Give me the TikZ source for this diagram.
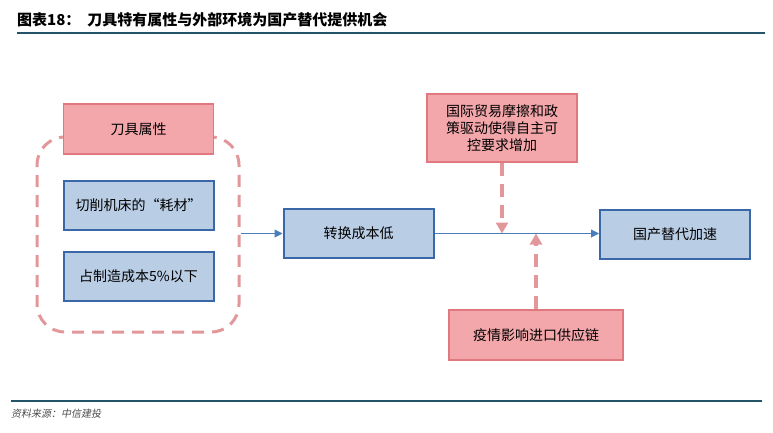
\documentclass[tikz,border=0pt]{standalone}
\usepackage{fontspec}
\newfontfamily\cjk{Noto Sans CJK SC}
\newfontfamily\cjkslant[FakeSlant=0.2]{Noto Sans CJK SC}
\usetikzlibrary{positioning}
\usetikzlibrary{arrows.meta}
\usetikzlibrary{calc}

\definecolor{pinkfill}{HTML}{F4A7AB}
\definecolor{pinkline}{HTML}{E07880}
\definecolor{pinkdash}{HTML}{E2979A}
\definecolor{bluefill}{HTML}{B9CDE5}
\definecolor{blueline}{HTML}{3A67A8}
\definecolor{flowblue}{HTML}{4A7EBB}
\definecolor{rulecol}{HTML}{245468}

\begin{document}
\begin{tikzpicture}[x=1pt,y=-1pt,
  pinkbox/.style={draw=pinkline,fill=pinkfill,line width=1.6pt,inner sep=0pt,
    font=\cjk\fontsize{14}{17}\selectfont,align=center},
  bluebox/.style={draw=blueline,fill=bluefill,line width=2pt,inner sep=0pt,
    minimum width=150,minimum height=49,font=\cjk\fontsize{14}{17}\selectfont},
  groupbox/.style={draw=pinkdash,line width=3pt,dash pattern=on 12pt off 8pt,
    rounded corners=28pt,minimum width=202,minimum height=195},
  flow/.style={draw=flowblue,line width=1pt,-{Triangle[length=8pt,width=8pt]}},
  push/.style={draw=pinkdash,line width=3.5pt,dash pattern=on 13pt off 8pt,
    -{Triangle[length=11pt,width=12pt]}}]

  \useasboundingbox (0,0) rectangle (773,432);

  % title and rules
  \node[anchor=west,inner sep=0pt,font=\cjk\bfseries\fontsize{15}{18}\selectfont]
    (title) at (17,20) {图表18：\ \ 刀具特有属性与外部环境为国产替代提供机会};
  \draw[rulecol,line width=2.5pt] (17,33) -- (765,33);
  \draw[rulecol,line width=1.4pt] (11,401) -- (762,401);
  \node[anchor=west,inner sep=0pt,font=\cjkslant\fontsize{10}{12}\selectfont,
    text=black!70] (source) at (11,414) {资料来源：中信建投};

  % tool attributes
  \node[groupbox] (group) at (138,234.5) {};
  \node[pinkbox,minimum width=150,minimum height=50] (attr) at (138.5,129) {刀具属性};
  \node[bluebox] (consum) at (138.5,205.5) {切削机床的“耗材”};
  \node[bluebox] (share) at (138.5,276) {占制造成本5\%以下};

  % main chain
  \node[bluebox] (lowcost) at (358.5,233.5) {转换成本低};
  \node[bluebox] (subst) at (675,234.5) {国产替代加速};
  \draw[flow] (group.east |- lowcost.west) -- (lowcost.west);
  \draw[flow] (lowcost.east) -- (lowcost.east -| subst.west);

  % outside drivers
  \node[pinkbox,minimum width=150,minimum height=68] (policy) at (502,128)
    {国际贸易摩擦和政\\策驱动使得自主可\\控要求增加};
  \node[pinkbox,minimum width=174,minimum height=50] (epidemic) at (536,335)
    {疫情影响进口供应链};
  \coordinate (P) at (policy.south |- lowcost.east);
  \coordinate (E) at (epidemic.north |- lowcost.east);
  \draw[push] (policy.south) -- (P);
  \draw[push] (epidemic.north) -- (E);

\end{tikzpicture}
\end{document}
